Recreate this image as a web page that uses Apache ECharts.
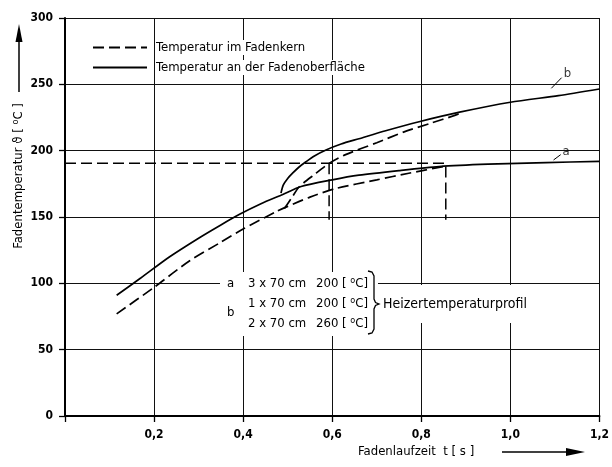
<!DOCTYPE html>
<html><head><meta charset="utf-8">
<script src="https://cdn.jsdelivr.net/npm/echarts@6/dist/echarts.min.js"></script>
<style>html,body{margin:0;padding:0;background:#fff}#c{width:612px;height:467px}</style>
</head><body><div id="c"></div>
<script>
// ---- data (t [s], temperature [°C]) ----
const xTickLabels = ['', '0,2', '0,4', '0,6', '0,8', '1,0', '1,2'];
const yTickLabels = ['0', '50', '100', '150', '200', '250', '300'];
const surfaceA = [[0.116,91],[0.17,104],[0.235,120],[0.3,134],[0.35,144],[0.392,152],[0.44,160],[0.489,167],[0.53,173],[0.6,178],[0.66,181.5],[0.75,185],[0.84,188],[0.95,189.8],[1.08,191],[1.2,192]];
const coreA = [[0.116,77],[0.2,97],[0.28,117],[0.35,131],[0.4,141],[0.474,154],[0.5,158],[0.55,165],[0.608,171.5],[0.7,178],[0.772,183],[0.85,188]];
const surfaceB = [[0.485,168],[0.49,174],[0.5,179],[0.511,183],[0.525,187.5],[0.541,191.6],[0.56,196],[0.586,200.5],[0.62,205],[0.66,209],[0.72,215],[0.795,221.8],[0.886,229],[1.0,236.5],[1.108,241.5],[1.2,246.5]];
const coreB = [[0.4925,156.5],[0.5,160],[0.51,165],[0.526,172.8],[0.56,182],[0.593,190.4],[0.63,197],[0.7,206],[0.76,214],[0.824,221],[0.87,226],[0.89,228.5]];
const refH = [[0,190.5],[0.855,190.5]];
const refV1 = [[0.593,190.5],[0.593,148]];
const refV2 = [[0.855,188],[0.855,148]];
const leaderA = [[1.097,193],[1.113,197]];
const leaderB = [[1.092,247],[1.115,255]];
const labelA = [[1.125,199]];
const labelB = [[1.128,258]];
const nameCore = 'Temperatur im Fadenkern';
const nameSurf = 'Temperatur an der Fadenoberfläche';

const FF = '"Liberation Sans Narrow", "DejaVu Sans Condensed", sans-serif';
const FONT = '13px ' + FF;
const DASH = [11,5];
const chart = echarts.init(document.getElementById('c'), null, {renderer:'canvas'});

function lineSeries(name, data, dashed, width){
  return {name, type:'line', data, symbol:'none', showSymbol:false, smooth:0.25, z:3,
    lineStyle:{color:'#000', width: width||1.7, type: dashed?DASH:'solid'}, itemStyle:{color:'#000'}};
}
function labelSeries(data, txt){
  return {type:'scatter', data, symbolSize:0, silent:true,
    label:{show:true, position:'inside', formatter:txt, color:'#000', fontSize:13, fontFamily:FF}};
}
const supRich = {s:{fontSize:9, fontFamily:FF, fill:'#000', padding:[0,0,7,0]}};
function txt(x, y, text, extra){
  return Object.assign({type:'text', z:6, x, y,
    style:Object.assign({text, verticalAlign:'middle', fill:'#000', font:FONT, rich:supRich}, extra||{})});
}

const option = {
  animation:false,
  backgroundColor:'#fff',
  grid:{left:65, right:11, top:18, bottom:51},
  legend:{
    data:[nameCore, nameSurf], orient:'vertical', left:87, top:35,
    itemWidth:54, itemHeight:14, itemGap:5,
    itemStyle:{opacity:0},
    formatter: n => '{g|}{t|' + n + '}',
    textStyle:{color:'#000', fontSize:13, fontFamily:FF,
      rich:{g:{width:4}, t:{backgroundColor:'#fff', color:'#000', fontSize:13, fontFamily:FF, padding:[1,2,1,0]}}}
  },
  xAxis:{type:'value', min:0, max:1.2, interval:0.2,
    axisLine:{show:true, onZero:false, lineStyle:{color:'#000', width:2}},
    axisTick:{show:true, length:6, lineStyle:{color:'#000', width:1.3}},
    axisLabel:{formatter:(v,i)=>xTickLabels[i], color:'#000', fontSize:12, fontWeight:'bold', fontFamily:FF, margin:13},
    splitLine:{show:true, lineStyle:{color:'#111', width:1}}},
  yAxis:{type:'value', min:0, max:300, interval:50,
    axisLine:{show:true, onZero:false, lineStyle:{color:'#000', width:2}},
    axisTick:{show:true, length:6, lineStyle:{color:'#000', width:1.3}},
    axisLabel:{formatter:(v,i)=>yTickLabels[i], color:'#000', fontSize:12, fontWeight:'bold', fontFamily:FF, margin:12},
    splitLine:{show:true, lineStyle:{color:'#111', width:1}}},
  series:[
    lineSeries(nameSurf, surfaceA, false),
    lineSeries(nameSurf, surfaceB, false),
    lineSeries(nameCore, coreA, true),
    lineSeries(nameCore, coreB, true),
    {type:'line', data:refH, symbol:'none', lineStyle:{color:'#000', width:1.5, type:DASH}},
    {type:'line', data:refV1, symbol:'none', lineStyle:{color:'#000', width:1.5, type:DASH}},
    {type:'line', data:refV2, symbol:'none', lineStyle:{color:'#000', width:1.5, type:DASH}},
    {type:'line', data:leaderA, symbol:'none', lineStyle:{color:'#000', width:1}},
    {type:'line', data:leaderB, symbol:'none', lineStyle:{color:'#000', width:1}},
    labelSeries(labelA, 'a'),
    labelSeries(labelB, 'b')
  ],
  graphic:[
    // y axis title + arrow
    {type:'text', x:19, y:176, rotation:Math.PI/2, z:10,
      style:{text:'Fadentemperatur ϑ [ {s|o}C ]', align:'center', verticalAlign:'middle',
        fill:'#000', font:FONT, rich:supRich}},
    {type:'line', shape:{x1:19, y1:92, x2:19, y2:40}, style:{stroke:'#000', lineWidth:1.5}},
    {type:'polygon', shape:{points:[[19,24],[15.5,42],[22.5,42]]}, style:{fill:'#000'}},
    // x axis title + arrow
    {type:'text', x:358, y:452, z:10,
      style:{text:'Fadenlaufzeit  t [ s ]', align:'left', verticalAlign:'middle', fill:'#000', font:FONT}},
    {type:'line', shape:{x1:502, y1:452, x2:568, y2:452}, style:{stroke:'#000', lineWidth:1.5}},
    {type:'polygon', shape:{points:[[585,452],[566,448],[566,456]]}, style:{fill:'#000'}},
    // heater profile box
    {type:'rect', z:5, shape:{x:220, y:272, width:158, height:64}, style:{fill:'#fff'}},
    txt(227, 284, 'a'),
    txt(227, 313, 'b'),
    txt(248, 284, '3 x 70 cm'),
    txt(248, 304, '1 x 70 cm'),
    txt(248, 324, '2 x 70 cm'),
    txt(316, 284, '200 [ {s|o}C]'),
    txt(316, 304, '200 [ {s|o}C]'),
    txt(316, 324, '260 [ {s|o}C]'),
    {type:'polyline', z:6, shape:{points:[[368,271],[372,272],[374,276],[374,299],[375.5,302.5],[379,304],[375.5,305.5],[374,309],[374,329],[372,333],[368,334]]},
      style:{stroke:'#000', lineWidth:1.3, fill:null}},
    txt(382, 304, 'Heizertemperaturprofil', {font:'14px ' + FF, backgroundColor:'#fff', padding:[12,2,12,1]})
  ]
};
chart.setOption(option);
</script></body></html>
